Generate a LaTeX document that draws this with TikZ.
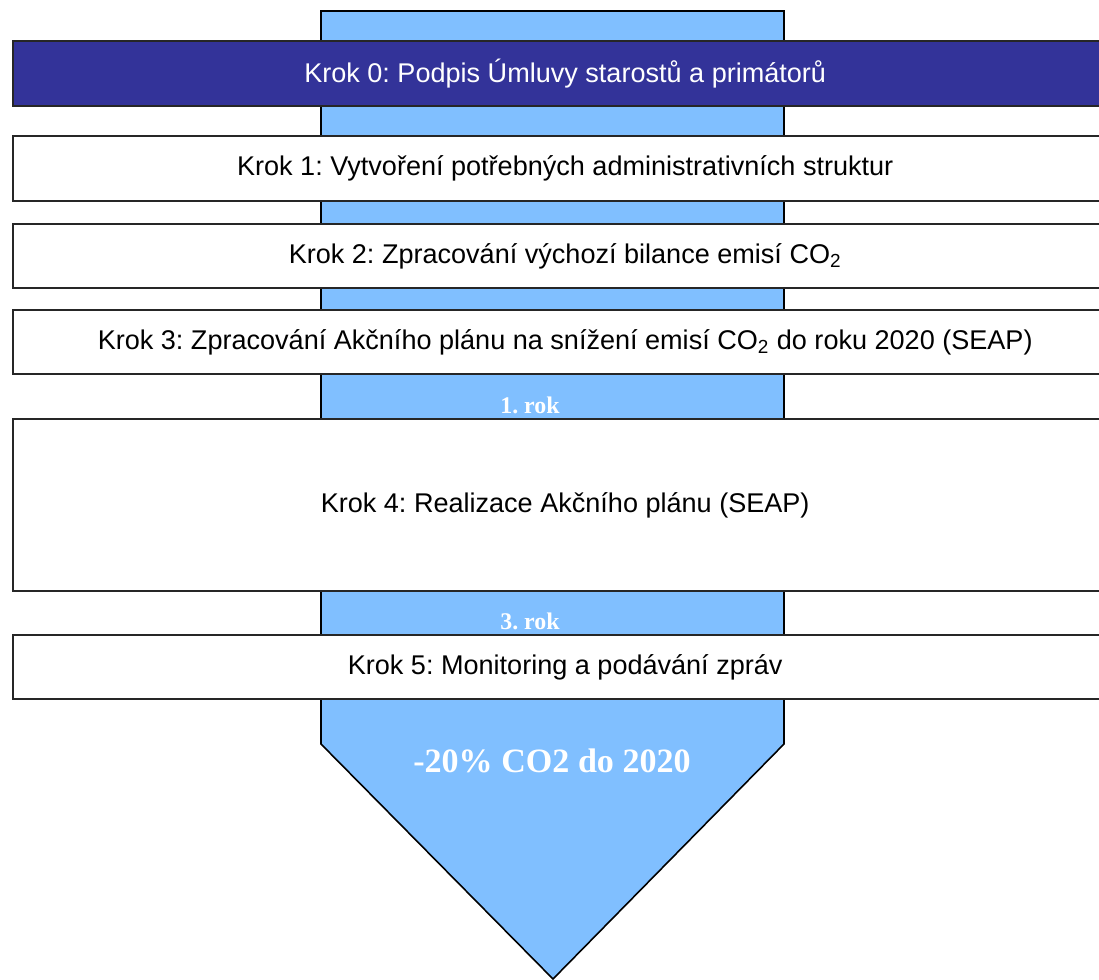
\documentclass[tikz,border=0pt]{standalone}
\usepackage{fontspec}
\setmainfont{Liberation Sans}
\newfontfamily\yearfont{Liberation Serif}
\usetikzlibrary{positioning}
\definecolor{shaft}{HTML}{80BFFF}
\definecolor{kickoff}{HTML}{333399}
\frenchspacing

\begin{document}
\begin{tikzpicture}[x=0.02cm,y=-0.02cm,
  stepbox/.style={draw=black!85,line width=0.9pt,fill=white,anchor=west,
    minimum width=22.1cm,inner sep=0pt,font=\fontsize{15.4}{18}\selectfont},
  yearlabel/.style={text=white,font=\yearfont\bfseries\fontsize{13.6}{15}\selectfont},
]
  \clip (0,0) rectangle (1099,980);

  % the big arrow behind the steps
  \draw[fill=shaft,line width=0.9pt] (321,11) -- (784,11) -- (784,744)
    -- (553,979) -- (321,744) -- cycle;

  \node[stepbox,fill=kickoff,text=white,minimum height=1.3cm] (k0) at (12,73.5) {Krok 0: Podpis Úmluvy starostů a primátorů};
  \node[stepbox,minimum height=1.3cm] (k1) at (12,168.5) {Krok 1: Vytvoření potřebných administrativních struktur};
  \node[stepbox,minimum height=1.28cm] (k2) at (12,256) {Krok 2: Zpracování výchozí bilance emisí CO\textsubscript{2}};
  \node[stepbox,minimum height=1.28cm] (k3) at (12,342) {Krok 3: Zpracování Akčního plánu na snížení emisí CO\textsubscript{2} do roku 2020 (SEAP)};
  \node[stepbox,minimum height=3.44cm] (k4) at (12,505) {Krok 4: Realizace Akčního plánu (SEAP)};
  \node[stepbox,minimum height=1.28cm] (k5) at (12,667) {Krok 5: Monitoring a podávání zpráv};

  \node[yearlabel] (y1) at (530,405) {1. rok};
  \node[yearlabel] (y3) at (530,621) {3. rok};
  \node[yearlabel,font=\yearfont\bfseries\fontsize{19.4}{22}\selectfont] (goal) at (552,761) {-20\% CO2 do 2020};
\end{tikzpicture}
\end{document}
